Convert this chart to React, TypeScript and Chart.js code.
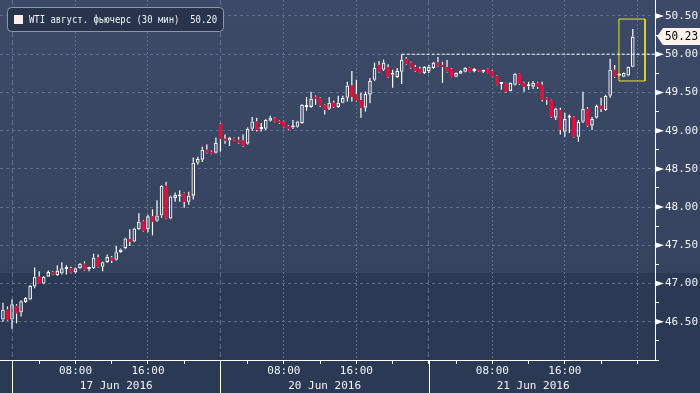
import React, { useEffect, useRef } from 'react';
import { Chart, registerables } from 'chart.js';

Chart.register(...registerables);

// ---------- data (30-min candles, index 0 = 17 Jun 01:00) ----------
const FIRST_INDEX = -2; // 16 Jun 23:00

const open = [
  46.53, 46.66, 46.53, 46.71, 46.62, 46.76, 46.79, 46.96, 47.09, 47.00,
  47.09, 47.15, 47.11, 47.13, 47.19, 47.20, 47.145, 47.20, 47.26, 47.19,
  47.20, 47.34, 47.22, 47.28, 47.34, 47.31, 47.41, 47.46, 47.58, 47.55,
  47.71, 47.82, 47.71, 47.88, 47.82, 47.89, 48.28, 47.85, 48.12, 48.14,
  48.18, 48.07, 48.15, 48.58, 48.62, 48.75, 48.725, 48.71, 49.09, 48.89,
  48.87, 48.90, 48.88, 48.87, 48.83, 49.025, 49.12, 49.02, 49.025, 49.13,
  49.17, 49.13, 49.12, 49.06, 49.04, 49.05, 49.10, 49.31, 49.31, 49.44,
  49.43, 49.34, 49.285, 49.365, 49.31, 49.365, 49.43, 49.59, 49.48, 49.40,
  49.30, 49.47, 49.665, 49.86, 49.795, 49.83, 49.73, 49.70, 49.77, 49.94,
  49.89, 49.83, 49.81, 49.755, 49.78, 49.82, 49.89, 49.86, 49.83, 49.81,
  49.705, 49.745, 49.77, 49.82, 49.78, 49.79, 49.77, 49.81, 49.78, 49.715,
  49.61, 49.625, 49.52, 49.60, 49.745, 49.625, 49.58, 49.575, 49.625, 49.60,
  49.43, 49.405, 49.17, 49.27, 48.985, 49.17, 49.18, 48.92, 49.115, 49.285,
  49.065, 49.17, 49.325, 49.27, 49.455, 49.795, 49.72, 49.705, 49.72, 49.835,
];
const high = [
  46.75, 46.70, 46.79, 46.73, 46.78, 46.82, 46.98, 47.21, 47.16, 47.10,
  47.17, 47.16, 47.24, 47.28, 47.24, 47.22, 47.21, 47.27, 47.29, 47.22,
  47.39, 47.38, 47.29, 47.38, 47.36, 47.49, 47.46, 47.60, 47.71, 47.73,
  47.92, 47.83, 47.90, 47.97, 48.09, 48.29, 48.33, 48.15, 48.19, 48.22,
  48.19, 48.20, 48.65, 48.66, 48.79, 48.82, 48.74, 48.91, 49.10, 48.95,
  48.92, 48.91, 48.92, 48.95, 49.04, 49.18, 49.17, 49.10, 49.15, 49.195,
  49.18, 49.14, 49.13, 49.07, 49.14, 49.13, 49.35, 49.44, 49.51, 49.46,
  49.44, 49.35, 49.44, 49.39, 49.455, 49.455, 49.64, 49.78, 49.665, 49.495,
  49.51, 49.69, 49.89, 49.91, 49.93, 49.87, 49.795, 49.82, 50.00, 49.965,
  49.90, 49.86, 49.835, 49.845, 49.86, 49.90, 49.965, 49.90, 49.925, 49.82,
  49.76, 49.79, 49.83, 49.825, 49.82, 49.795, 49.80, 49.815, 49.79, 49.72,
  49.63, 49.63, 49.63, 49.755, 49.75, 49.64, 49.64, 49.65, 49.64, 49.64,
  49.44, 49.41, 49.30, 49.30, 49.235, 49.21, 49.19, 49.14, 49.51, 49.31,
  49.18, 49.34, 49.43, 49.47, 49.94, 49.86, 49.73, 49.76, 49.84, 50.33,
];
const low = [
  46.50, 46.51, 46.41, 46.48, 46.57, 46.75, 46.78, 46.94, 47.00, 46.99,
  47.09, 47.11, 47.10, 47.12, 47.12, 47.13, 47.13, 47.19, 47.17, 47.16,
  47.19, 47.21, 47.16, 47.27, 47.27, 47.30, 47.40, 47.45, 47.49, 47.54,
  47.70, 47.68, 47.67, 47.63, 47.81, 47.86, 47.84, 47.84, 48.07, 48.07,
  47.99, 48.03, 48.10, 48.555, 48.59, 48.70, 48.69, 48.70, 48.725, 48.83,
  48.80, 48.86, 48.83, 48.79, 48.82, 49.00, 48.99, 48.99, 49.01, 49.12,
  49.11, 49.09, 49.04, 49.01, 49.02, 49.04, 49.09, 49.26, 49.30, 49.34,
  49.31, 49.21, 49.27, 49.30, 49.30, 49.36, 49.38, 49.38, 49.38, 49.17,
  49.25, 49.36, 49.65, 49.76, 49.78, 49.69, 49.56, 49.69, 49.61, 49.86,
  49.81, 49.77, 49.75, 49.745, 49.755, 49.81, 49.84, 49.625, 49.76, 49.70,
  49.70, 49.74, 49.765, 49.765, 49.765, 49.775, 49.755, 49.75, 49.70, 49.595,
  49.535, 49.495, 49.515, 49.59, 49.60, 49.51, 49.535, 49.545, 49.545, 49.38,
  49.34, 49.17, 49.14, 48.95, 48.92, 48.97, 48.91, 48.855, 49.10, 49.05,
  49.01, 49.16, 49.245, 49.26, 49.43, 49.69, 49.71, 49.70, 49.71, 49.83,
];
const close = [
  46.66, 46.52, 46.73, 46.61, 46.77, 46.81, 46.97, 47.09, 47.00, 47.09,
  47.15, 47.12, 47.17, 47.20, 47.20, 47.145, 47.20, 47.26, 47.18, 47.20,
  47.34, 47.22, 47.28, 47.35, 47.30, 47.41, 47.445, 47.59, 47.55, 47.72,
  47.81, 47.69, 47.88, 47.81, 47.89, 48.28, 47.85, 48.14, 48.16, 48.16,
  48.07, 48.15, 48.58, 48.63, 48.75, 48.71, 48.70, 48.84, 48.89, 48.87,
  48.91, 48.87, 48.84, 48.80, 49.025, 49.12, 49.01, 49.03, 49.14, 49.17,
  49.12, 49.10, 49.05, 49.02, 49.06, 49.12, 49.34, 49.33, 49.42, 49.42,
  49.325, 49.27, 49.365, 49.31, 49.365, 49.43, 49.59, 49.44, 49.39, 49.30,
  49.48, 49.65, 49.82, 49.77, 49.89, 49.70, 49.745, 49.78, 49.93, 49.87,
  49.82, 49.78, 49.755, 49.835, 49.835, 49.89, 49.85, 49.835, 49.77, 49.705,
  49.755, 49.78, 49.82, 49.77, 49.79, 49.78, 49.795, 49.755, 49.705, 49.60,
  49.625, 49.51, 49.625, 49.745, 49.61, 49.575, 49.60, 49.625, 49.575, 49.405,
  49.405, 49.18, 49.29, 49.01, 49.155, 49.18, 48.92, 49.115, 49.285, 49.065,
  49.155, 49.325, 49.285, 49.455, 49.795, 49.705, 49.72, 49.755, 49.835, 50.23,
];

const SERIES_LABEL = 'WTI август. фьючерс (30 мин)';
const LEGEND_VALUE = '50.20';

// x axis: 4-hour ticks (candle index), labels, day separators
const xTickIdx = [0, 6, 14, 22, 30, 38, 46, 52, 60, 68, 76, 84, 92, 98, 106, 114, 122, 130, 138];
const xTickText = ['', '', '08:00', '', '16:00', '', '', '', '08:00', '', '16:00', '', '', '', '08:00', '', '16:00', '', ''];
const xDottedIdx = [14, 30, 60, 76, 106, 122, 138];
const dayStartIdx = [0, 46, 92];
const dayLabelIdx = [23, 69, 115];
const dayLabels = ['17 Jun 2016', '20 Jun 2016', '21 Jun 2016'];

// y axis
const yTicks = [46.0, 46.25, 46.5, 46.75, 47.0, 47.25, 47.5, 47.75, 48.0, 48.25, 48.5, 48.75, 49.0, 49.25, 49.5, 49.75, 50.0, 50.25, 50.5];
const yLabelValues = [46.5, 47.0, 47.5, 48.0, 48.5, 49.0, 49.5, 50.0, 50.5];

// reference line at previous high and highlight box
const refLevel = 50.0;
const refStartIdx = 86;
const boxIdx = [133.95, 139.7];
const boxLevels = [49.65, 50.46];

const X_MIN = -2.65;
const X_MAX = 141.9;
const Y_MIN = 46.0;
const Y_MAX = 50.709;

// ---------- style ----------
const WHITE = '#ffffff';
const RED = '#e0123c';
const GRID = '#58718f';
const TEXT = '#f2f4f7';
const FONT = '"DejaVu Sans Mono", "Liberation Mono", monospace';

const isMajorY = (v: number | undefined) => v !== undefined && yLabelValues.some((m) => Math.abs(m - v) < 1e-6);

const decorPlugin = {
  id: 'decor',
  beforeDraw(chart: any) {
    const { ctx, width, height } = chart;
    ctx.save();
    ctx.fillStyle = '#2c3955';
    ctx.fillRect(0, 0, width, height);
    const band = Math.round(height * 0.695);
    const g = ctx.createLinearGradient(0, 0, 0, band);
    g.addColorStop(0, '#3c4a67');
    g.addColorStop(1, '#35435f');
    ctx.fillStyle = g;
    ctx.fillRect(0, 0, width, band);
    ctx.restore();
  },
  afterDraw(chart: any) {
    const { ctx, chartArea, scales } = chart;
    const xs = scales.x;
    const ys = scales.y;
    ctx.save();
    // day separators below the axis
    ctx.strokeStyle = WHITE;
    ctx.lineWidth = 1;
    dayStartIdx.forEach((d) => {
      const px = Math.round(xs.getPixelForValue(d)) + 0.5;
      ctx.beginPath();
      ctx.moveTo(px, chartArea.bottom);
      ctx.lineTo(px, chart.height);
      ctx.stroke();
    });
    // y tick markers
    ctx.fillStyle = WHITE;
    yLabelValues.forEach((v) => {
      const py = ys.getPixelForValue(v);
      ctx.beginPath();
      ctx.moveTo(chartArea.right, py - 3);
      ctx.lineTo(chartArea.right + 9, py);
      ctx.lineTo(chartArea.right, py + 3);
      ctx.closePath();
      ctx.fill();
    });
    // last price tag
    const last = close[close.length - 1];
    const ly = ys.getPixelForValue(last);
    const r = chartArea.right;
    ctx.fillStyle = '#fbf2ec';
    ctx.beginPath();
    ctx.moveTo(r + 2, ly);
    ctx.lineTo(r + 8, ly - 8.5);
    ctx.lineTo(chart.width, ly - 8.5);
    ctx.lineTo(chart.width, ly + 8.5);
    ctx.lineTo(r + 8, ly + 8.5);
    ctx.closePath();
    ctx.fill();
    ctx.fillStyle = '#000000';
    ctx.font = `12px ${FONT}`;
    ctx.textBaseline = 'middle';
    ctx.textAlign = 'left';
    ctx.fillText(last.toFixed(2), r + 10, ly + 0.5, 33);
    // legend box
    const lx = 7.5, lyy = 7.5, lw = 216, lh = 24;
    ctx.beginPath();
    ctx.roundRect(lx, lyy, lw, lh, 4);
    ctx.fillStyle = '#28344c';
    ctx.fill();
    ctx.strokeStyle = '#8a98ac';
    ctx.lineWidth = 1;
    ctx.stroke();
    ctx.fillStyle = '#fcefe9';
    ctx.fillRect(14, 15, 9, 9);
    ctx.fillStyle = TEXT;
    ctx.font = `11px ${FONT}`;
    ctx.textBaseline = 'middle';
    ctx.fillText(`${chart.data.datasets[0].label}  ${LEGEND_VALUE}`, 29, 20, 188);
    ctx.restore();
  },
};

export default function App() {
  const ref = useRef<HTMLCanvasElement>(null);

  useEffect(() => {
    const idx = open.map((_, i) => FIRST_INDEX + i);
    const up = open.map((o, i) => close[i] >= o);
    const bodies = idx.map((x, i) => ({ x, y: [Math.min(open[i], close[i]), Math.max(open[i], close[i])] }));
    const upperWicks = idx.map((x, i) => ({ x, y: [Math.max(open[i], close[i]), high[i]] }));
    const lowerWicks = idx.map((x, i) => ({ x, y: [low[i], Math.min(open[i], close[i])] }));

    Chart.defaults.font.family = FONT;

    const chart = new Chart(ref.current as HTMLCanvasElement, {
      type: 'bar',
      data: {
        datasets: [
          {
            label: SERIES_LABEL,
            data: bodies as any,
            barThickness: 3.6,
            grouped: false,
            backgroundColor: up.map((u) => (u ? 'rgba(0,0,0,0)' : RED)),
            borderColor: up.map((u) => (u ? WHITE : RED)),
            borderWidth: up.map((u) => (u ? 1.1 : 0)),
            borderSkipped: false,
            minBarLength: 2,
            inflateAmount: 0,
            order: 1,
          } as any,
          {
            label: 'upper',
            data: upperWicks as any,
            barThickness: 1.2,
            grouped: false,
            backgroundColor: WHITE,
            borderWidth: 0,
            inflateAmount: 0,
            order: 2,
          } as any,
          {
            label: 'lower',
            data: lowerWicks as any,
            barThickness: 1.2,
            grouped: false,
            backgroundColor: WHITE,
            borderWidth: 0,
            inflateAmount: 0,
            order: 2,
          } as any,
          {
            type: 'line',
            label: 'ref',
            data: [
              { x: refStartIdx, y: refLevel },
              { x: X_MAX, y: refLevel },
            ],
            borderColor: WHITE,
            borderWidth: 1,
            borderDash: [3, 2],
            pointRadius: 0,
            order: 0,
          } as any,
          {
            type: 'line',
            label: 'box',
            data: [
              { x: boxIdx[0], y: boxLevels[1] },
              { x: boxIdx[1], y: boxLevels[1] },
              { x: boxIdx[1], y: boxLevels[0] },
              { x: boxIdx[0], y: boxLevels[0] },
              { x: boxIdx[0], y: boxLevels[1] },
            ],
            borderColor: '#f0e21a',
            borderWidth: 1,
            pointRadius: 0,
            tension: 0,
            order: 0,
          } as any,
        ],
      },
      options: {
        animation: false,
        responsive: false,
        devicePixelRatio: 1,
        layout: { padding: 0 },
        plugins: { legend: { display: false }, tooltip: { enabled: false } },
        scales: {
          x: {
            type: 'linear',
            position: 'bottom',
            weight: 0,
            bounds: 'data',
            offset: false,
            min: X_MIN,
            max: X_MAX,
            afterBuildTicks: (s: any) => {
              s.ticks = xTickIdx.map((v) => ({ value: v }));
            },
            afterFit: (s: any) => {
              s.height = 16;
              s.paddingLeft = 0;
              s.paddingRight = 0;
            },
            ticks: {
              autoSkip: false,
              maxRotation: 0,
              minRotation: 0,
              padding: 1,
              color: TEXT,
              font: { size: 11, family: FONT },
              callback: (_v: any, i: number) => xTickText[i],
            },
            grid: {
              display: true,
              offset: false,
              drawOnChartArea: true,
              drawTicks: true,
              tickLength: 4,
              lineWidth: 1,
              color: (c: any) => {
                const v = c.tick ? c.tick.value : undefined;
                if (dayStartIdx.includes(v) || xDottedIdx.includes(v)) return GRID;
                return 'rgba(0,0,0,0)';
              },
              tickColor: WHITE,
            },
            border: {
              display: true,
              color: WHITE,
              width: 1,
              dash: (c: any) => {
                const v = c.tick ? c.tick.value : undefined;
                return dayStartIdx.includes(v) ? [5, 3] : [2, 2];
              },
            },
          } as any,
          x2: {
            type: 'linear',
            position: 'bottom',
            weight: 1,
            bounds: 'data',
            offset: false,
            min: X_MIN,
            max: X_MAX,
            afterBuildTicks: (s: any) => {
              s.ticks = dayLabelIdx.map((v) => ({ value: v }));
            },
            afterFit: (s: any) => {
              s.height = 17;
              s.paddingLeft = 0;
              s.paddingRight = 0;
            },
            ticks: {
              autoSkip: false,
              maxRotation: 0,
              minRotation: 0,
              padding: 4,
              color: TEXT,
              font: { size: 11, family: FONT },
              callback: (_v: any, i: number) => dayLabels[i],
            },
            grid: { display: false, offset: false, drawTicks: false, drawOnChartArea: false },
            border: { display: false },
          } as any,
          y: {
            type: 'linear',
            position: 'right',
            bounds: 'data',
            min: Y_MIN,
            max: Y_MAX,
            afterBuildTicks: (s: any) => {
              s.ticks = yTicks.map((v) => ({ value: v }));
            },
            afterFit: (s: any) => {
              s.width = 45;
              s.paddingTop = 0;
              s.paddingBottom = 0;
            },
            ticks: {
              autoSkip: false,
              padding: 6,
              color: TEXT,
              font: { size: 11, family: FONT },
              callback: (v: any) => (isMajorY(Number(v)) ? Number(v).toFixed(2) : ''),
            },
            grid: {
              display: true,
              drawOnChartArea: true,
              drawTicks: true,
              tickLength: 4,
              lineWidth: 1,
              color: (c: any) => (isMajorY(c.tick ? c.tick.value : undefined) ? GRID : 'rgba(0,0,0,0)'),
              tickColor: (c: any) => (isMajorY(c.tick ? c.tick.value : undefined) ? 'rgba(0,0,0,0)' : WHITE),
            },
            border: { display: true, color: WHITE, width: 1, dash: [3, 3] },
          } as any,
        },
      } as any,
      plugins: [decorPlugin],
    });
    return () => chart.destroy();
  }, []);

  return (
    <div style={{ position: 'fixed', left: 0, top: 0, width: 700, height: 393 }}>
      <canvas ref={ref} width={700} height={393} style={{ display: 'block', width: 700, height: 393 }} />
    </div>
  );
}
